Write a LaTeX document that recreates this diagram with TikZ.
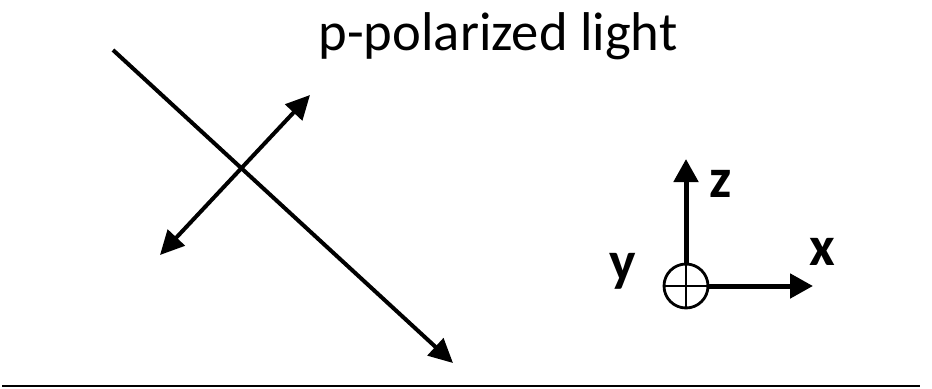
\documentclass[tikz,border=0pt]{standalone}
\usepackage{fontspec}
\setmainfont{Carlito}
\usetikzlibrary{arrows.meta}
\tikzset{
  ray/.style={line width=2pt,-{Triangle[length=12pt,width=11.5pt]}},
  field/.style={line width=2pt,{Triangle[length=12pt,width=11.5pt]}-{Triangle[length=12pt,width=11.5pt]}},
  axis/.style={line width=2.5pt,-{Triangle[length=11.5pt,width=12pt]}},
  axlabel/.style={font=\fontsize{28}{33}\selectfont\bfseries}
}

\begin{document}
\begin{tikzpicture}[x=0.5pt,y=0.5pt]
  \useasboundingbox (0,0) rectangle (932,388);
  \node (title) at (498,352) {\fontsize{27.3}{32}\selectfont p-polarized light};
  % incident ray and E-field
  \coordinate (rayStart) at (113,338);
  \coordinate (rayEnd) at (453,25);
  \draw[ray] (rayStart) -- (rayEnd);
  \coordinate (fieldLow) at (160,133);
  \coordinate (fieldHigh) at (310,293);
  \draw[field] (fieldLow) -- (fieldHigh);
  % axes
  \node[draw,circle,line width=1.4pt,minimum size=22pt,inner sep=0pt] (yaxis) at (686,102) {};
  \draw[line width=1.2pt] (yaxis.north) -- (yaxis.south) (yaxis.west) -- (yaxis.east);
  \coordinate (zTip) at (686,229);
  \coordinate (xTip) at (813,102);
  \draw[axis] (yaxis.north) -- (zTip);
  \draw[axis] (yaxis.east) -- (xTip);
  \node[axlabel] (zlab) at (721,204) {z};
  \node[axlabel] (xlab) at (822,136) {x};
  \node[axlabel] (ylab) at (623,117) {y};
  % surface
  \draw[line width=0.9pt] (2,2) -- (920,2);
\end{tikzpicture}
\end{document}
